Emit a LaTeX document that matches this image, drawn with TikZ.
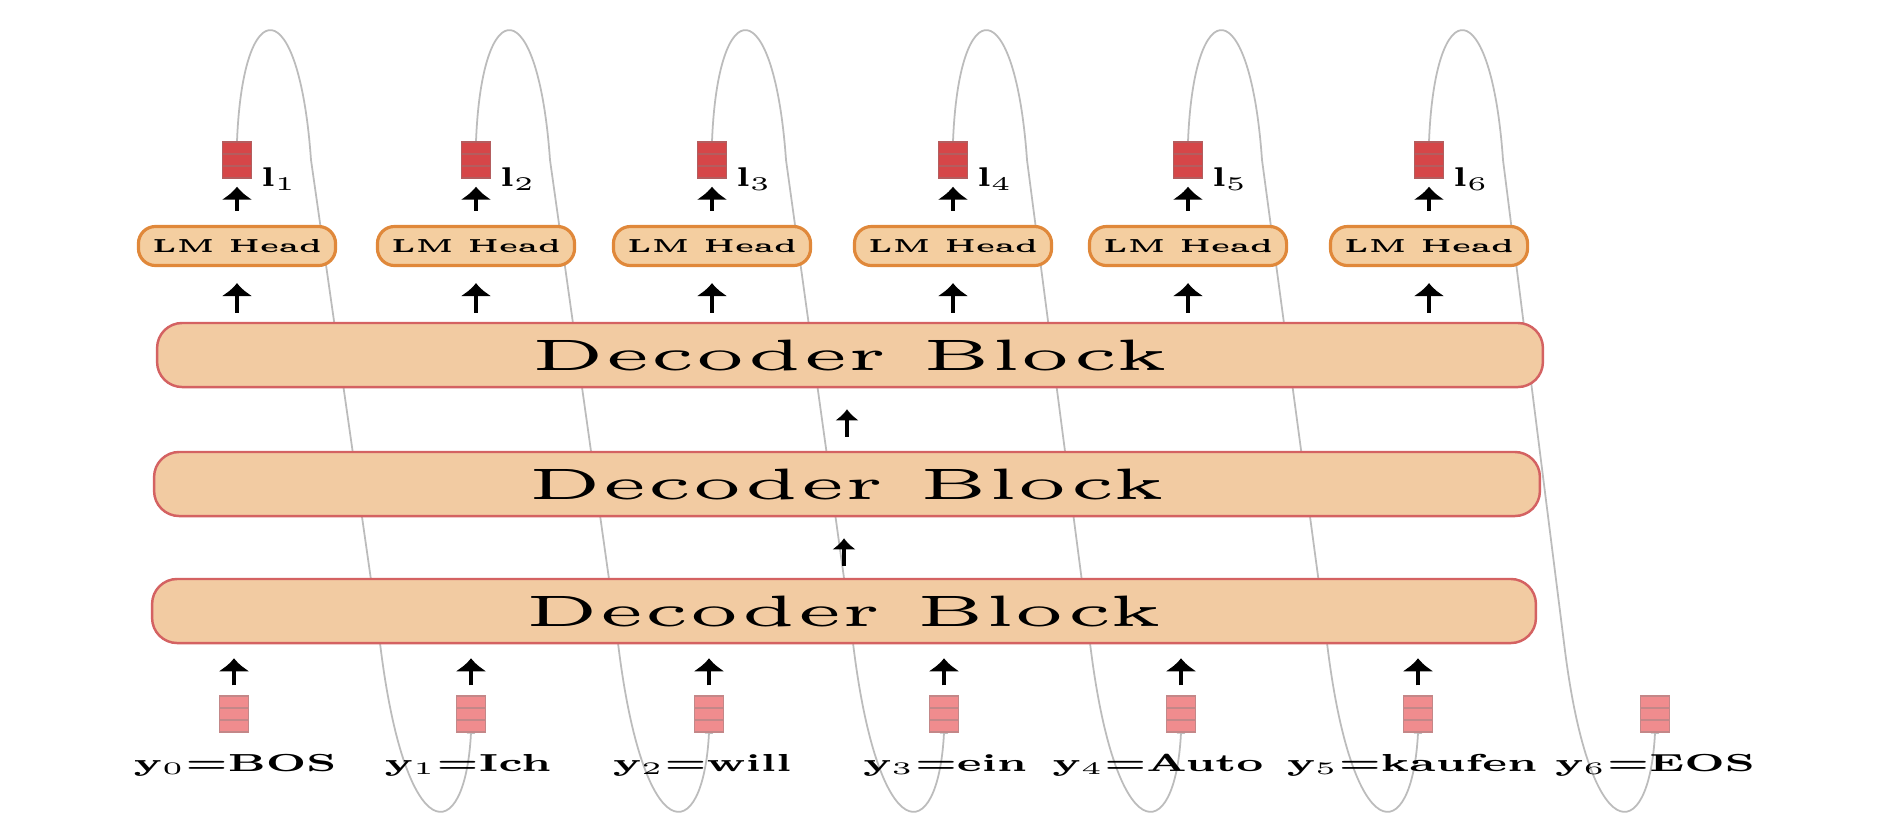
\documentclass[tikz,border=0pt]{standalone}
\usepackage{graphicx}
\usetikzlibrary{arrows.meta,backgrounds}

\definecolor{blockfill}{RGB}{242,203,162}
\definecolor{blockline}{RGB}{212,98,98}
\definecolor{headfill}{RGB}{244,206,160}
\definecolor{headline}{RGB}{224,136,58}
\definecolor{logitred}{RGB}{214,70,72}
\definecolor{tokenpink}{RGB}{240,140,142}
\definecolor{loopgray}{RGB}{188,188,188}

\newcommand{\wide}[3]{\scalebox{#1}[#2]{#3}}

\begin{document}
\begin{tikzpicture}[x=0.01cm,y=-0.01cm,
    block/.style={draw=blockline,line width=0.7pt,fill=blockfill,
        rounded corners=0.25cm,minimum height=0.64cm,inner sep=0},
    head/.style={draw=headline,line width=0.9pt,fill=headfill,
        rounded corners=0.17cm,minimum width=1.97cm,minimum height=0.39cm,inner sep=0},
    vec/.style={draw=#1!60!gray,fill=#1,line width=0.4pt,
        minimum width=0.29cm,minimum height=0.36cm,inner sep=0,
        path picture={
            \draw[#1!60!gray,line width=0.4pt]
                ([yshift=0.12cm]path picture bounding box.south west) --
                ([yshift=0.12cm]path picture bounding box.south east)
                ([yshift=0.24cm]path picture bounding box.south west) --
                ([yshift=0.24cm]path picture bounding box.south east);}},
    up/.style={-{Latex[length=1.3mm,width=3.2mm]},line width=1.1pt},
    upsmall/.style={-{Latex[length=1.1mm,width=2.4mm]},line width=1pt},
    feedback/.style={-{Latex[length=0.7mm,width=0.9mm]},draw=loopgray,line width=0.5pt}]

    \begin{pgfonlayer}{background}
        \fill[white] (0,0) rectangle (1880,824);
    \end{pgfonlayer}
    \path[use as bounding box] (0,0) rectangle (1880,824);

    % decoder stack
    \node[block,minimum width=13.85cm] (dec1) at (850,355)
        {\wide{4.18}{2.5}{\tiny Decoder Block}};
    \node[block,minimum width=13.85cm] (dec2) at (847,484)
        {\wide{4.18}{2.5}{\tiny Decoder Block}};
    \node[block,minimum width=13.83cm] (dec3) at (844,611)
        {\wide{4.18}{2.5}{\tiny Decoder Block}};
    \draw[upsmall,shorten <=0.14cm,shorten >=0.21cm] (dec2.north) -- (dec2.north |- dec1.south);
    \draw[upsmall,shorten <=0.12cm,shorten >=0.21cm] (dec3.north) -- (dec3.north |- dec2.south);

    % LM heads and logits
    \foreach \i/\x in {1/237,2/476,3/712,4/953,5/1188,6/1429}{
        \node[head] (h\i) at (\x,246) {\wide{1.55}{1.07}{\tiny\bfseries LM Head}};
        \node[vec=logitred] (l\i) at (\x,160) {};
        \node[anchor=base west,inner sep=0] (n\i) at ([xshift=0.08cm,yshift=-0.08cm]l\i.south east)
            {\wide{1.6}{1.1}{\scriptsize$\mathbf{l}_{\i}$}};
        \draw[up,shorten <=0.14cm,shorten >=0.08cm] (h\i.north) -- (l\i.south);
        \draw[up,shorten <=0.09cm,shorten >=0.16cm] (dec1.north -| h\i) -- (h\i.south);
    }

    % input tokens
    \foreach \i/\x/\lx/\tok in {0/234/235/BOS,1/471/468/Ich,2/709/702/will,
            3/944/945/ein,4/1181/1158/Auto,5/1418/1412/kaufen,6/1655/1655/EOS}{
        \node[vec=tokenpink] (v\i) at (\x,714) {};
        \node[anchor=base,inner sep=0] (w\i) at (\lx,771)
            {\wide{1.7}{1.0}{\scriptsize$\mathbf{y}_{\i}$\textbf{=\tok}}};
    }
    \foreach \i in {0,...,5}
        \draw[up,shorten <=0.1cm,shorten >=0.14cm] (v\i.north) -- (v\i.north |- dec3.south);

    % logits fed back as next input
    \begin{pgfonlayer}{background}
        \foreach \i/\tx/\bx in {1/237/471,2/476/709,3/712/944,4/953/1181,5/1188/1418,6/1429/1655}
            \draw[feedback,shorten >=-0.06cm] (l\i.north)
                .. controls (\tx+6,-10) and (\tx+62,-10) .. (\tx+74,160)
                -- (\bx-91,643)
                .. controls (\bx-66,850) and (\bx-6,850) .. (v\i.south);
    \end{pgfonlayer}
\end{tikzpicture}
\end{document}
